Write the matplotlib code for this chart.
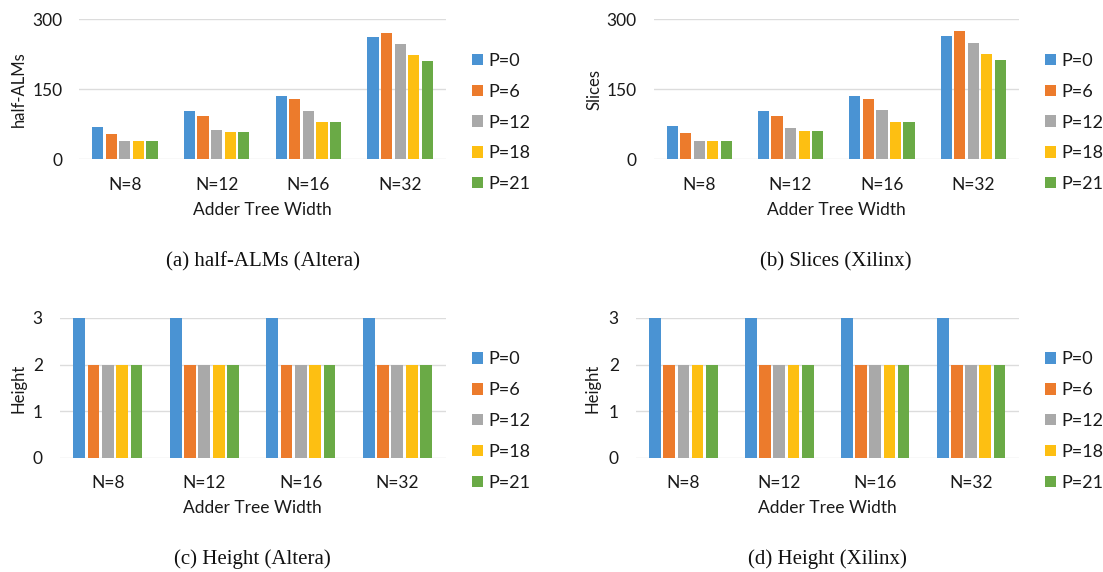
import matplotlib
matplotlib.use("Agg")
import matplotlib.pyplot as plt
import numpy as np

# ---------------- data ----------------
categories = ["N=8", "N=12", "N=16", "N=32"]
series_labels = ["P=0", "P=6", "P=12", "P=18", "P=21"]
colors = ["#4A93D3", "#EC7B2C", "#A9A9A9", "#FDBF12", "#6AAA46"]

alms_p0 = [70, 103, 135, 262]
alms_p6 = [55, 92, 129, 271]
alms_p12 = [39, 63, 104, 247]
alms_p18 = [39, 59, 79, 222]
alms_p21 = [39, 59, 79, 210]

slices_p0 = [71, 103, 135, 264]
slices_p6 = [56, 93, 129, 274]
slices_p12 = [40, 67, 105, 249]
slices_p18 = [40, 61, 80, 226]
slices_p21 = [40, 61, 80, 213]

height_altera_p0 = [3, 3, 3, 3]
height_altera_p6 = [2, 2, 2, 2]
height_altera_p12 = [2, 2, 2, 2]
height_altera_p18 = [2, 2, 2, 2]
height_altera_p21 = [2, 2, 2, 2]

height_xilinx_p0 = [3, 3, 3, 3]
height_xilinx_p6 = [2, 2, 2, 2]
height_xilinx_p12 = [2, 2, 2, 2]
height_xilinx_p18 = [2, 2, 2, 2]
height_xilinx_p21 = [2, 2, 2, 2]

yticks_resources = [0, 150, 300]
yticks_height = [0, 1, 2, 3]

# ---------------- figure ----------------
W, H = 1103, 572
fig = plt.figure(figsize=(W / 100, H / 100), dpi=100)
fig.patch.set_facecolor("white")

SANS = ["Lato", "DejaVu Sans"]
SERIF = ["Liberation Serif", "DejaVu Serif"]
TXT = "#1a1a1a"
SZ = 12.5


def fx(x):
    return x / W


def fy(y):
    return 1 - y / H


def make_panel(left, top, right, bottom, data, yticks, ylabel, caption,
               legend_x, legend_y, ylabel_x, caption_y, xlabel_y):
    ax = fig.add_axes([fx(left), fy(bottom), fx(right) - fx(left),
                       (bottom - top) / H])
    x = np.arange(len(categories))
    slot = 0.148
    bw = 0.122
    handles = []
    for i, (vals, c, lab) in enumerate(zip(data, colors, series_labels)):
        off = (i - (len(data) - 1) / 2) * slot
        b = ax.bar(x + off, vals, width=bw, color=c, label=lab, zorder=3,
                   linewidth=0)
        handles.append(b)
    ax.set_xlim(-0.5, len(categories) - 0.5)
    ax.set_ylim(yticks[0], yticks[-1])
    ax.set_yticks(yticks)
    ax.set_yticklabels([str(t) for t in yticks], fontfamily=SANS,
                       fontsize=SZ, color=TXT)
    ax.set_xticks(x)
    ax.set_xticklabels(categories, fontfamily=SANS, fontsize=SZ, color=TXT)
    ax.tick_params(axis="both", length=0)
    ax.tick_params(axis="y", pad=12)
    ax.tick_params(axis="x", pad=12.5)
    ax.grid(axis="y", color="#DCDCDC", linewidth=1.0, zorder=0)
    for s in ax.spines.values():
        s.set_visible(False)
    ax.set_facecolor("none")
    # y label
    fig.text(fx(ylabel_x), fy((top + bottom) / 2), ylabel, rotation=90,
             ha="center", va="center", fontfamily=SANS, fontsize=SZ - 0.5,
             color=TXT)
    # x label
    fig.text(fx((left + right) / 2), fy(xlabel_y), "Adder Tree Width",
             ha="center", va="center", fontfamily=SANS, fontsize=SZ,
             color=TXT)
    # caption
    fig.text(fx((left + right) / 2), fy(caption_y), caption,
             ha="center", va="center", fontfamily=SERIF,
             fontsize=15, color="#111111")
    # legend
    leg = ax.legend(handles=handles, loc="center left",
                    bbox_to_anchor=(fx(legend_x), fy(legend_y)),
                    bbox_transform=fig.transFigure, frameon=False,
                    borderpad=0, borderaxespad=0, handlelength=0.6,
                    handleheight=0.6, handletextpad=0.3,
                    labelspacing=0.82,
                    prop={"family": SANS, "size": SZ + 0.5})
    for t in leg.get_texts():
        t.set_color(TXT)
    return ax


make_panel(79, 19, 446, 159.3,
           [alms_p0, alms_p6, alms_p12, alms_p18, alms_p21],
           yticks_resources, "half-ALMs", "(a) half-ALMs (Altera)",
           472, 122.5, 18.5, 262, 210)
make_panel(653.5, 19, 1019, 159.3,
           [slices_p0, slices_p6, slices_p12, slices_p18, slices_p21],
           yticks_resources, "Slices", "(b) Slices (Xilinx)",
           1045, 122.5, 595, 262, 210)
make_panel(59.6, 318, 445.6, 458,
           [height_altera_p0, height_altera_p6, height_altera_p12,
            height_altera_p18, height_altera_p21],
           yticks_height, "Height", "(c) Height (Altera)",
           472, 421, 19, 559, 508)
make_panel(635.5, 318, 1019, 458,
           [height_xilinx_p0, height_xilinx_p6, height_xilinx_p12,
            height_xilinx_p18, height_xilinx_p21],
           yticks_height, "Height", "(d) Height (Xilinx)",
           1045, 421, 593, 559, 508)

fig.savefig("out.png", dpi=100, facecolor="white")
